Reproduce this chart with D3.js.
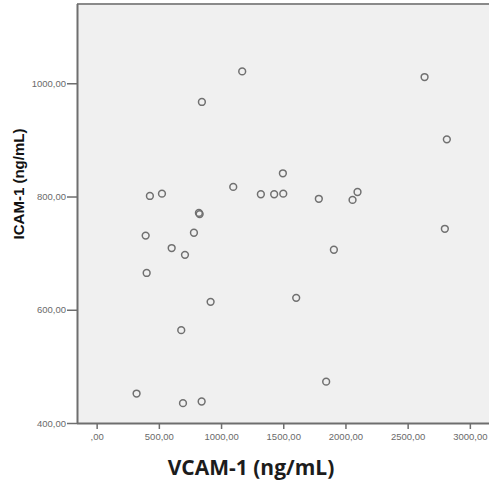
<!DOCTYPE html>
<html>
<head>
<meta charset="utf-8">
<script src="https://cdn.jsdelivr.net/npm/d3@7"></script>
<style>
  html, body { margin: 0; padding: 0; background: #ffffff; }
  svg { display: block; }
</style>
</head>
<body>
<svg id="chart" width="489" height="486"></svg>
<script>
// VCAM-1 vs ICAM-1 concentrations, one point per subject (ng/mL)
const vcam = [428, 525, 1098, 1320, 1427, 1500, 1497, 1786, 2097, 2057,
              822, 828, 394, 782, 603, 710, 402, 1907, 916, 680,
              321, 694, 844, 1604, 1845, 2636, 2815, 2799, 1170, 846];
const icam = [801, 805, 817, 804, 804, 805, 841, 796, 808, 794,
              771, 769, 731, 736, 709, 697, 665, 706, 614, 564,
              452, 435, 438, 621, 473, 1011, 901, 743, 1021, 967];

const xTicks = [0, 500, 1000, 1500, 2000, 2500, 3000];
const yTicks = [400, 600, 800, 1000];

const xTitle = "VCAM-1 (ng/mL)";
const yTitle = "ICAM-1 (ng/mL)";

const svg = d3.select("#chart");

const plot = { left: 77, top: 4, bottom: 423, right: 491 };

const x = d3.scaleLinear().domain([-158, 3170]).range([plot.left, plot.right]);
const y = d3.scaleLinear().domain([400, 1140]).range([plot.bottom, plot.top]);

// numbers with a decimal comma; zero integer part dropped (",00")
const fmt = v => d3.format(".2f")(v).replace(".", ",").replace(/^0,/, ",");

// plot background
svg.append("rect")
  .attr("x", plot.left).attr("y", plot.top)
  .attr("width", plot.right - plot.left).attr("height", plot.bottom - plot.top)
  .attr("fill", "#f0f0f0");

// top frame line
svg.append("line")
  .attr("x1", plot.left).attr("x2", plot.right)
  .attr("y1", plot.top).attr("y2", plot.top)
  .attr("stroke", "#8a8a8a").attr("stroke-width", 2);

// axes
const xAxis = d3.axisBottom(x).tickValues(xTicks).tickFormat(fmt).tickSize(6).tickPadding(4);
const yAxis = d3.axisLeft(y).tickValues(yTicks).tickFormat(fmt).tickSize(10).tickPadding(1);

const gx = svg.append("g").attr("transform", `translate(0,${plot.bottom})`).call(xAxis);
const gy = svg.append("g").attr("transform", `translate(${plot.left},0)`).call(yAxis);

[gx, gy].forEach(g => {
  g.select(".domain").attr("stroke", "#6e6e6e").attr("stroke-width", 2);
  g.selectAll(".tick line").attr("stroke", "#6e6e6e").attr("stroke-width", 1.5);
  g.selectAll(".tick text")
    .attr("fill", "#6a6a6a")
    .style("font-family", "'Liberation Sans', Arial, sans-serif")
    .style("font-size", "9.5px");
});
gy.select(".domain").attr("d", `M0.5,${plot.top}V${plot.bottom}`);
gx.select(".domain").attr("d", `M${plot.left},0.5H${plot.right}`);

// points
svg.append("g")
  .selectAll("circle")
  .data(vcam.map((v, i) => [v, icam[i]]))
  .join("circle")
  .attr("cx", d => x(d[0]))
  .attr("cy", d => y(d[1]))
  .attr("r", 3.4)
  .attr("fill", "none")
  .attr("stroke", "#707070")
  .attr("stroke-width", 1.5);

// axis titles
svg.append("text")
  .attr("x", 251).attr("y", 475)
  .attr("text-anchor", "middle")
  .attr("fill", "#1c1c1c")
  .style("font-family", "'Open Sans', sans-serif")
  .style("font-weight", "bold")
  .style("font-size", "21px")
  .text(xTitle);

svg.append("text")
  .attr("transform", "translate(23.5,184) rotate(-90)")
  .attr("text-anchor", "middle")
  .attr("fill", "#111")
  .style("font-family", "'Liberation Sans', Arial, sans-serif")
  .style("font-weight", "bold")
  .style("font-size", "15px")
  .text(yTitle);
</script>
</body>
</html>
